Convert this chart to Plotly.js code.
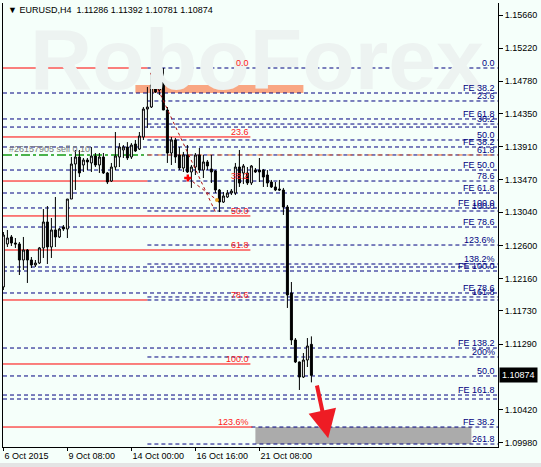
<!DOCTYPE html>
<html><head><meta charset="utf-8">
<script src="https://cdn.plot.ly/plotly-3.0.1.min.js"></script>
<style>html,body{margin:0;padding:0;background:#F5FFFA}</style>
</head><body>
<div id="chart" style="width:541px;height:467px"></div>
<script>
const titleText = "▼ EURUSD,H4  1.11286 1.11392 1.10781 1.10874";
const lastPrice = 1.10874;

const open = [1.12048,1.12619,1.12712,1.12632,1.12619,1.12406,1.12539,1.12406,1.12340,1.12366,
1.12566,1.12911,1.12579,1.12805,1.12712,1.12845,1.12818,1.13216,1.13681,1.13774,
1.13668,1.13734,1.13695,1.13787,1.13668,1.13774,1.13562,1.13455,1.13641,1.13774,
1.13867,1.13907,1.13774,1.13946,1.13880,1.14040,1.14411,1.14438,1.14730,1.14664,
1.14797,1.14398,1.13827,1.14000,1.13801,1.13628,1.13801,1.13575,1.13641,1.13801,
1.13601,1.13708,1.13615,1.13588,1.13336,1.13176,1.13243,1.13296,1.13296,1.13641,
1.13562,1.13562,1.13429,1.13601,1.13601,1.13601,1.13535,1.13442,1.13376,1.13349,
1.13336,1.13110,1.11968,1.11344,1.11052,1.10852,1.11078,1.11286];
const high = [1.12778,1.12805,1.12738,1.12698,1.12645,1.12712,1.12552,1.12446,1.12406,1.12579,
1.13083,1.13123,1.12964,1.13243,1.12831,1.12871,1.13216,1.13774,1.13867,1.13867,
1.13761,1.13761,1.13907,1.13827,1.13827,1.13827,1.13575,1.13695,1.14106,1.13959,
1.13933,1.13972,1.13959,1.14000,1.14106,1.14438,1.14704,1.14904,1.14810,1.14823,
1.14956,1.14438,1.14040,1.14027,1.13907,1.13841,1.13933,1.13668,1.13827,1.13894,
1.13801,1.13734,1.13801,1.13601,1.13349,1.13309,1.13336,1.13349,1.13695,1.13867,
1.13681,1.13641,1.13668,1.13628,1.13761,1.13615,1.13601,1.13469,1.13442,1.13469,
1.13363,1.13137,1.12114,1.11370,1.11057,1.11171,1.11370,1.11392];
const low = [1.12008,1.12579,1.12592,1.12566,1.12207,1.12273,1.12101,1.12300,1.12313,1.12353,
1.12433,1.12353,1.12433,1.12579,1.12698,1.12792,1.12698,1.13216,1.13336,1.13508,
1.13575,1.13601,1.13575,1.13641,1.13562,1.13549,1.13415,1.13442,1.13601,1.13641,
1.13761,1.13734,1.13748,1.13841,1.13867,1.14000,1.14160,1.14425,1.14624,1.14597,
1.14398,1.13695,1.13668,1.13695,1.13601,1.13575,1.13562,1.13363,1.13535,1.13562,
1.13495,1.13601,1.13429,1.13296,1.13044,1.13163,1.13230,1.13269,1.13269,1.13376,
1.13415,1.13402,1.13402,1.13562,1.13442,1.13376,1.13376,1.13363,1.13322,1.13322,
1.13004,1.11769,1.11277,1.11038,1.10680,1.10839,1.10985,1.10781];
const close = [1.12738,1.12698,1.12632,1.12619,1.12406,1.12539,1.12406,1.12340,1.12366,1.12566,
1.12911,1.12579,1.12805,1.12712,1.12818,1.12818,1.13216,1.13681,1.13774,1.13562,
1.13734,1.13708,1.13787,1.13668,1.13774,1.13562,1.13442,1.13641,1.13787,1.13907,
1.13907,1.13761,1.13933,1.13854,1.14053,1.14411,1.14438,1.14730,1.14637,1.14797,
1.14398,1.13827,1.14000,1.13774,1.13628,1.13801,1.13575,1.13641,1.13801,1.13601,
1.13708,1.13655,1.13575,1.13336,1.13176,1.13256,1.13296,1.13322,1.13641,1.13429,
1.13655,1.13429,1.13655,1.13575,1.13575,1.13508,1.13429,1.13376,1.13336,1.13336,
1.13110,1.11941,1.11344,1.11052,1.10852,1.11078,1.11264,1.10874];

const xTickBars = [0, 16, 32, 48, 64];
const xTickLabels = ["6 Oct 2015","9 Oct 08:00","14 Oct 00:00","16 Oct 16:00","21 Oct 08:00"];
const yTickValues = [1.15660,1.15220,1.14780,1.14350,1.13910,1.13470,1.13040,1.12600,1.12160,1.11730,1.11290,1.10420,1.09980];

// Fibonacci expansion levels drawn across the whole chart
const feLevels = [1.14624,1.14279,1.14172,1.13907,1.13601,1.13296,1.13097,1.12844,1.12313,1.12260,1.11968,1.11237,1.10866,1.10613,1.10560];
const feLabels = ["FE 38.2","FE 61.8","","FE 38.2","FE 50.0","FE 61.8","FE 100.0","FE 78.6","","FE 100.0","FE 78.6","FE 138.2","50.0","FE 161.8",""];
// Fibonacci retracement levels drawn from the swing-high bar
const fibLevels = [1.14956,1.14518,1.14212,1.14000,1.13801,1.13455,1.13057,1.12605,1.12353,1.11915,1.11875,1.11118,1.09962];
const fibLabels = ["0.0","23.6","38.2","50.0","61.8","78.6","100.0","123.6%","138.2%","161.8","","200%","261.8"];
const fibAnchorBar = 36;
// Lower FE level right of the target zone
const targetFeLevel = 1.10188;
const targetFeLabel = "FE 38.2";
const targetFeBar = 62;
// Red retracement grid (left part)
const redLevels = [1.14956,1.14040,1.13455,1.12991,1.12539,1.11875,1.11025,1.10188];
const redLabels = ["0.0","23.6","38.2","50.0","61.8","78.6","100.0","123.6%"];
const redEndBar = [36,61.75,36,61.75,61.75,36,61.75,62.25];
// Zones
const resistZone = {x: [33, 75], y: [1.14624, 1.14730]};
const targetZone = {x: [63, 117], y: [1.09962, 1.10188]};
// Order line
const orderLevel = 1.13801;
const orderLabel = "#26157905 sell 0.10";
// Trend line (fibo diagonal), and marker points
const trendX = [36.75, 53];
const trendY = [1.14890, 1.13044];
const trend2X = [46.1, 53.4];
const trend2Y = [1.13495, 1.13203];
// Arrow (from -> to)
const arrowFrom = [78.3, 1.10759];
const arrowTo = [81.2, 1.10040];

const bars = open.map((_, i) => i);
const FONT = "Liberation Sans, Arial, sans-serif";
const XMAX = 123.65;

const shapes = [];
const annotations = [];

// watermark first so that everything draws above it
annotations.push({xref:'paper', x:0.05, yref:'paper', y:0.875, text:'<b>RoboForex</b>', xanchor:'left', yanchor:'middle', showarrow:false, font:{size:86, color:'#EDF3F1', family:FONT}});

shapes.push({type:'rect', xref:'x', yref:'y', x0:resistZone.x[0], x1:resistZone.x[1], y0:resistZone.y[0], y1:resistZone.y[1], fillcolor:'#F9A783', line:{width:0}, layer:'below'});
shapes.push({type:'rect', xref:'x', yref:'y', x0:targetZone.x[0], x1:targetZone.x[1], y0:targetZone.y[0], y1:targetZone.y[1], fillcolor:'#ABABAB', line:{width:0}, layer:'below'});

const navy = '#000080';
feLevels.forEach((v, i) => {
  shapes.push({type:'line', xref:'x', yref:'y', x0:-0.1, x1:XMAX, y0:v, y1:v, line:{color:navy, width:1, dash:'4px,3px'}, layer:'below'});
  if (feLabels[i]) annotations.push({xref:'paper', x:0.996, yref:'y', y:v, text:feLabels[i], xanchor:'right', yanchor:'bottom', showarrow:false, borderpad:0, yshift:-1, font:{size:9, color:navy, family:FONT}});
});
fibLevels.forEach((v, i) => {
  shapes.push({type:'line', xref:'x', yref:'y', x0:fibAnchorBar, x1:XMAX, y0:v, y1:v, line:{color:navy, width:1, dash:'4px,3px'}, layer:'below'});
  if (fibLabels[i]) annotations.push({xref:'paper', x:0.996, yref:'y', y:v, text:fibLabels[i], xanchor:'right', yanchor:'bottom', showarrow:false, borderpad:0, yshift:-1, font:{size:9, color:navy, family:FONT}});
});
shapes.push({type:'line', xref:'x', yref:'y', x0:targetFeBar, x1:XMAX, y0:targetFeLevel, y1:targetFeLevel, line:{color:navy, width:1, dash:'4px,3px'}, layer:'below'});
annotations.push({xref:'paper', x:0.996, yref:'y', y:targetFeLevel, text:targetFeLabel, xanchor:'right', yanchor:'bottom', showarrow:false, borderpad:0, yshift:-1, font:{size:9, color:navy, family:FONT}});

redLevels.forEach((v, i) => {
  shapes.push({type:'line', xref:'x', yref:'y', x0:-0.1, x1:redEndBar[i], y0:v, y1:v, line:{color:'#FF0000', width:1}, layer:'below'});
  annotations.push({xref:'x', x:61.75, yref:'y', y:v, text:redLabels[i], xanchor:'right', yanchor:'bottom', showarrow:false, borderpad:0, yshift:-1, font:{size:9, color:'#FF2020', family:FONT}});
});

// order line
shapes.push({type:'line', xref:'x', yref:'y', x0:fibAnchorBar, x1:XMAX, y0:orderLevel, y1:orderLevel, line:{color:'#F26522', width:1, dash:'5px,5px'}, layer:'below'});
shapes.push({type:'line', xref:'x', yref:'y', x0:-0.1, x1:fibAnchorBar, y0:orderLevel, y1:orderLevel, line:{color:'#129A12', width:1.5, dash:'dashdot'}, layer:'below'});
annotations.push({xref:'x', x:1.2, yref:'y', y:orderLevel, text:orderLabel, xanchor:'left', yanchor:'bottom', showarrow:false, borderpad:0, yshift:0, font:{size:9, color:'#7A7A7A', family:FONT}});

// title
annotations.push({xref:'paper', x:0.006, yref:'paper', y:0.984, text:titleText, xanchor:'left', yanchor:'middle', showarrow:false, font:{size:9, color:'#000', family:FONT}});
// last price
annotations.push({xref:'paper', x:1, xshift:1, yref:'y', y:lastPrice, text:lastPrice.toFixed(5), xanchor:'left', yanchor:'middle', showarrow:false, bgcolor:'#000', borderpad:2, font:{size:9, color:'#FFF', family:FONT}});
// arrow
annotations.push({xref:'x', yref:'y', x:arrowTo[0], y:arrowTo[1], axref:'x', ayref:'y', ax:arrowFrom[0], ay:arrowFrom[1], text:'', showarrow:true, arrowhead:2, arrowsize:1.4, arrowwidth:4, arrowcolor:'#EE1C24'});

// bottom gray strip
shapes.push({type:'rect', xref:'paper', yref:'paper', x0:-0.01, x1:1.1, y0:-0.046, y1:-0.036, fillcolor:'#E4E4E4', line:{width:0}});

const traces = [
  {type:'candlestick', x:bars, open:open, high:high, low:low, close:close,
   increasing:{line:{color:'#000', width:1}, fillcolor:'#FFFFFF'},
   decreasing:{line:{color:'#000', width:1}, fillcolor:'#000000'},
   whiskerwidth:0, hoverinfo:'skip', showlegend:false},
  {type:'scatter', mode:'lines', x:trendX, y:trendY, line:{color:'#B01010', width:1, dash:'dot'}, hoverinfo:'skip', showlegend:false},
  {type:'scatter', mode:'lines', x:trend2X, y:trend2Y, line:{color:'#B01010', width:1, dash:'dot'}, hoverinfo:'skip', showlegend:false},
  {type:'scatter', mode:'markers', x:[trend2X[0]], y:[trend2Y[0]], marker:{symbol:'cross', size:6, color:'#FF0000'}, hoverinfo:'skip', showlegend:false},
  {type:'scatter', mode:'markers', x:[trend2X[1]], y:[trend2Y[1]], marker:{symbol:'circle', size:4, color:'#E8A020'}, hoverinfo:'skip', showlegend:false}
];

const layout = {
  width:541, height:467,
  margin:{l:3, r:43, t:3, b:20},
  paper_bgcolor:'#F5FFFA', plot_bgcolor:'#F5FFFA',
  showlegend:false,
  xaxis:{range:[-0.1, XMAX], showgrid:false, zeroline:false, showline:true, linecolor:'#000', linewidth:1,
         tickvals:xTickBars, ticktext:xTickLabels, ticks:'outside', ticklen:3, tickcolor:'#000',
         ticklabelposition:'outside right', tickfont:{size:9, color:'#000', family:FONT},
         rangeslider:{visible:false}, fixedrange:true},
  yaxis:{range:[1.099226, 1.158194], side:'right', showgrid:false, zeroline:false, showline:true, mirror:true,
         linecolor:'#000', linewidth:1, tickvals:yTickValues, ticktext:yTickValues.map(v => v.toFixed(5)),
         ticks:'outside', ticklen:4, tickcolor:'#000', tickfont:{size:9, color:'#000', family:FONT}, fixedrange:true},
  shapes:shapes, annotations:annotations
};

Plotly.newPlot('chart', traces, layout, {staticPlot:true, displayModeBar:false});
</script>
</body></html>
